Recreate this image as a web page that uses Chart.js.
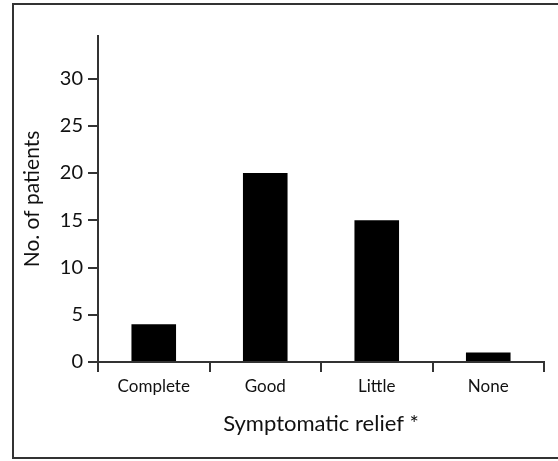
<!DOCTYPE html>
<html>
<head>
<meta charset="utf-8">
<script src="https://cdn.jsdelivr.net/npm/chart.js@4/dist/chart.umd.min.js"></script>
<style>
  html, body { margin: 0; padding: 0; background: #fff; }
  #wrap { position: relative; width: 558px; height: 461px; }
  #frame { position: absolute; left: 12px; top: 3px; width: 550px; height: 452px;
           border: 2px solid #333; pointer-events: none; }
</style>
</head>
<body>
<div id="wrap">
  <canvas id="reliefChart" width="558" height="461"></canvas>
  <div id="frame"></div>
</div>
<script>
// ===== data =====
const categories = ['Complete', 'Good', 'Little', 'None'];
const patients = [4, 20, 15, 1];
const yTicks = [0, 5, 10, 15, 20, 25, 30];
const yMax = 34.5;

const axisColor = '#333';
const fontFamily = 'Lato, "Open Sans", sans-serif';

// ===== Symptomatic relief chart =====
const ctx = document.getElementById('reliefChart').getContext('2d');
const reliefChart = new Chart(ctx, {
  type: 'bar',
  data: {
    labels: categories,
    datasets: [{
      label: 'No. of patients',
      data: patients,
      backgroundColor: '#000',
      borderWidth: 0,
      categoryPercentage: 1,
      barPercentage: 0.4
    }]
  },
  options: {
    responsive: false,
    animation: false,
    layout: { padding: { left: 0, top: 36, right: 14, bottom: 0 } },
    plugins: { legend: { display: false }, tooltip: { enabled: false } },
    scales: {
      x: {
        grid: { display: true, offset: true, drawOnChartArea: false, drawTicks: true,
                tickLength: 10, color: axisColor, lineWidth: 2 },
        border: { display: true, color: axisColor, width: 2 },
        ticks: { color: '#111', padding: 4, font: { family: fontFamily, size: 17 } },
        title: { display: true, text: 'Symptomatic relief *', color: '#111',
                 font: { family: fontFamily, size: 22 }, padding: { top: 0, bottom: 24 } },
        afterFit: (scale) => { scale.height = 99; }
      },
      y: {
        min: 0,
        max: yMax,
        grid: { display: true, drawOnChartArea: false, drawTicks: true,
                tickLength: 10, color: axisColor, lineWidth: 2 },
        border: { display: true, color: axisColor, width: 2 },
        ticks: { color: '#111', padding: 5, font: { family: fontFamily, size: 20 } },
        afterBuildTicks: (scale) => { scale.ticks = yTicks.map(v => ({ value: v })); },
        title: { display: true, text: 'No. of patients', color: '#111',
                 font: { family: fontFamily, size: 21 }, padding: { top: 20, bottom: 0 } },
        afterFit: (scale) => { scale.width = 98; }
      }
    }
  }
});
</script>
</body>
</html>
